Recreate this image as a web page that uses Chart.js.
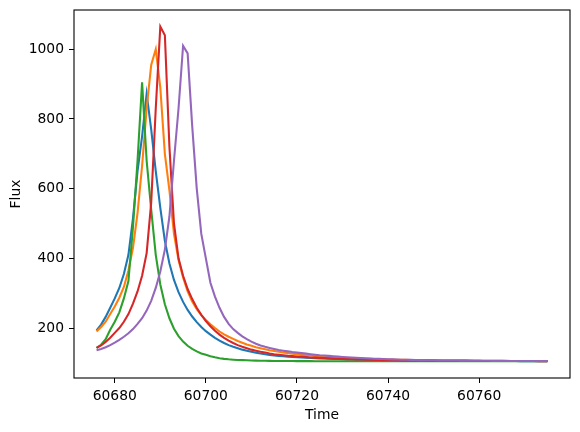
<!DOCTYPE html>
<html>
<head>
<meta charset="utf-8">
<script src="https://cdn.jsdelivr.net/npm/chart.js@4.4.1/dist/chart.umd.min.js"></script>
<style>
  html, body { margin: 0; padding: 0; background: #fff; }
  #chart { display: block; }
</style>
</head>
<body>
<canvas id="chart" width="580" height="432"></canvas>
<script>
// days of the light curves
const times = [
  60676, 60677, 60678, 60679, 60680, 60681, 60682, 60683, 60684, 60685,
  60686, 60687, 60688, 60689, 60690, 60691, 60692, 60693, 60694, 60695,
  60696, 60697, 60698, 60699, 60700, 60701, 60702, 60703, 60704, 60705,
  60706, 60707, 60708, 60709, 60710, 60711, 60712, 60713, 60714, 60715,
  60716, 60717, 60718, 60719, 60720, 60721, 60722, 60723, 60724, 60725,
  60726, 60727, 60728, 60729, 60730, 60731, 60732, 60733, 60734, 60735,
  60736, 60737, 60738, 60739, 60740, 60741, 60742, 60743, 60744, 60745,
  60746, 60747, 60748, 60749, 60750, 60751, 60752, 60753, 60754, 60755,
  60756, 60757, 60758, 60759, 60760, 60761, 60762, 60763, 60764, 60765,
  60766, 60767, 60768, 60769, 60770, 60771, 60772, 60773, 60774, 60775
];

const fluxBlue = [
  193, 210, 232, 258, 285, 315, 355, 410, 515, 650, 750, 872,
  770, 650, 545, 450, 385, 338, 303, 275, 252, 233, 217, 203,
  191, 181, 172, 164, 157, 151, 146, 142, 138, 135, 132, 129,
  127, 125, 123, 121.5, 120, 119, 118, 117, 116, 115.5, 115, 114,
  113.5, 113, 112.5, 112, 111.5, 111, 110.5, 110, 109.7, 109.4, 109.1, 108.8,
  108.5, 108.2, 108, 107.8, 107.6, 107.4, 107.2, 107, 106.9, 106.8, 106.7, 106.6,
  106.5, 106.4, 106.3, 106.2, 106.1, 106, 105.9, 105.8, 105.8, 105.7, 105.7, 105.6,
  105.6, 105.5, 105.5, 105.4, 105.4, 105.3, 105.3, 105.2, 105.2, 105.1, 105.1, 105.1, 105, 105, 105, 105
];

const fluxOrange = [
  190, 203, 218, 240, 262, 287, 318, 365, 430, 530, 665, 830,
  955, 1000, 890, 700, 595, 470, 395, 345, 305, 276, 254, 237,
  223, 211, 200, 190, 182, 175, 169, 163, 158, 153, 149, 145,
  142, 139, 136, 134, 132, 130, 128, 126, 124.5, 123, 122, 121,
  120, 119, 118, 117, 116, 115, 114.5, 114, 113.5, 113, 112.5, 112,
  111.5, 111, 110.6, 110.2, 109.8, 109.5, 109.2, 108.9, 108.6, 108.3, 108, 107.8,
  107.6, 107.4, 107.2, 107, 106.9, 106.8, 106.7, 106.6, 106.5, 106.4, 106.3, 106.2,
  106.1, 106, 105.9, 105.8, 105.7, 105.7, 105.6, 105.5, 105.5, 105.4, 105.4, 105.3, 105.3, 105.2, 105.2, 105.2
];

const fluxGreen = [
  143, 152, 168, 195, 218, 245, 285, 335, 490, 680, 905, 680,
  540, 410, 325, 268, 228, 198, 177, 161, 149, 140, 133, 127,
  123, 119, 116, 113.5, 111.5, 110.2, 109.2, 108.4, 107.8, 107.3, 106.9, 106.5,
  106.2, 106, 105.8, 105.6, 105.5, 105.4, 105.3, 105.2, 105.1, 105, 105, 105,
  104.9, 104.9, 104.9, 104.9, 104.9, 104.9, 104.9, 104.9, 104.9, 104.9, 104.9, 104.9,
  104.8, 104.8, 104.8, 104.8, 104.8, 104.8, 104.8, 104.8, 104.8, 104.8, 104.8, 104.8,
  104.7, 104.7, 104.7, 104.7, 104.7, 104.7, 104.7, 104.7, 104.7, 104.7, 104.7, 104.7,
  104.6, 104.6, 104.6, 104.6, 104.6, 104.6, 104.6, 104.6, 104.6, 104.6, 104.6, 104.6, 104.6, 104.6, 104.6, 104.6
];

const fluxRed = [
  143, 150, 160, 172, 186, 200, 218, 240, 270, 305, 350, 415,
  560, 830, 1065, 1040, 720, 500, 400, 350, 312, 283, 258, 238,
  220, 205, 192, 181, 172, 164, 157, 151, 146, 142, 138, 135,
  132, 129.5, 127, 125, 123.5, 122, 120.5, 119.5, 118.5, 117.5, 116.5, 115.5,
  115, 114.3, 113.6, 113, 112.4, 111.8, 111.3, 110.8, 110.4, 110, 109.6, 109.2,
  108.9, 108.6, 108.3, 108, 107.8, 107.6, 107.4, 107.2, 107, 106.9, 106.8, 106.7,
  106.6, 106.5, 106.4, 106.3, 106.2, 106.1, 106, 105.9, 105.9, 105.8, 105.8, 105.7,
  105.7, 105.6, 105.6, 105.5, 105.5, 105.4, 105.4, 105.3, 105.3, 105.3, 105.2, 105.2, 105.2, 105.1, 105.1, 105.1
];

const fluxPurple = [
  136, 140, 145, 151, 158, 166, 175, 185, 197, 212, 228, 250,
  278, 315, 362, 425, 520, 680, 830, 1010, 988, 780, 600, 470,
  400, 330, 290, 258, 232, 212, 197, 186, 176, 168, 161, 155,
  150, 146, 143, 140, 137, 135, 133, 131, 129.5, 128, 126.5, 125,
  123.5, 122, 121, 120, 119, 118, 117, 116, 115.2, 114.5, 113.8, 113.2,
  112.6, 112, 111.5, 111, 110.5, 110, 109.6, 109.2, 108.9, 108.6, 108.3, 108,
  107.8, 107.6, 107.4, 107.2, 107, 106.8, 106.7, 106.6, 106.5, 106.4, 106.3, 106.2,
  106.1, 106, 105.9, 105.8, 105.8, 105.7, 105.7, 105.6, 105.6, 105.5, 105.5, 105.4, 105.4, 105.4, 105.3, 105.3
];

const seriesList = [fluxBlue, fluxOrange, fluxGreen, fluxRed, fluxPurple];
const colors = ["#1f77b4", "#ff7f0e", "#2ca02c", "#d62728", "#9467bd"];

const xTicks = [60680, 60700, 60720, 60740, 60760];
const yTicks = [200, 400, 600, 800, 1000];

const font = { family: "'DejaVu Sans', sans-serif", size: 13.89, lineHeight: 1.2 };

// black box round the plot, like the axes spines
const frame = {
  id: "frame",
  afterDraw(chart) {
    const { ctx, chartArea: a } = chart;
    ctx.save();
    ctx.strokeStyle = "#000";
    ctx.lineWidth = 1.1;
    ctx.strokeRect(a.left, a.top, a.right - a.left, a.bottom - a.top);
    ctx.restore();
  }
};

// keep the plot box where the layout padding puts it
const noScalePadding = (s) => {
  s.paddingTop = 0; s.paddingBottom = 0;
  s.paddingLeft = 0; s.paddingRight = 0;
};

const datasets = seriesList.map((vals, i) => ({
  data: vals.map((v, k) => ({ x: times[k], y: v })),
  borderColor: colors[i],
  borderWidth: 2.08,
  pointRadius: 0,
  tension: 0,
  fill: false,
  order: seriesList.length - i, // later series on top
}));

new Chart(document.getElementById("chart"), {
  type: "line",
  data: { datasets },
  options: {
    responsive: false,
    animation: false,
    layout: { padding: { left: 0, right: 10, top: 10, bottom: 0 } },
    plugins: { legend: { display: false }, tooltip: { enabled: false } },
    scales: {
      x: {
        type: "linear",
        min: 60671.05,
        max: 60779.95,
        afterBuildTicks: (s) => { s.ticks = xTicks.map(v => ({ value: v })); },
        afterFit: (s) => { s.height = 54; noScalePadding(s); },
        ticks: { color: "#000", font, padding: 5, maxRotation: 0, callback: v => String(v) },
        grid: { drawOnChartArea: false, drawTicks: true, tickLength: 5, color: "#000", lineWidth: 1 },
        border: { display: false },
        title: { display: true, text: "Time", color: "#000", font, padding: { top: 4, bottom: 8.7 } },
      },
      y: {
        type: "linear",
        min: 56.6,
        max: 1112.6,
        afterBuildTicks: (s) => { s.ticks = yTicks.map(v => ({ value: v })); },
        afterFit: (s) => { s.width = 74; noScalePadding(s); },
        ticks: { color: "#000", font, padding: 5, callback: v => String(v) },
        grid: { drawOnChartArea: false, drawTicks: true, tickLength: 5, color: "#000", lineWidth: 1 },
        border: { display: false },
        title: { display: true, text: "Flux", color: "#000", font, padding: { top: 7.7, bottom: 4 } },
      }
    }
  },
  plugins: [frame]
});
</script>
</body>
</html>
